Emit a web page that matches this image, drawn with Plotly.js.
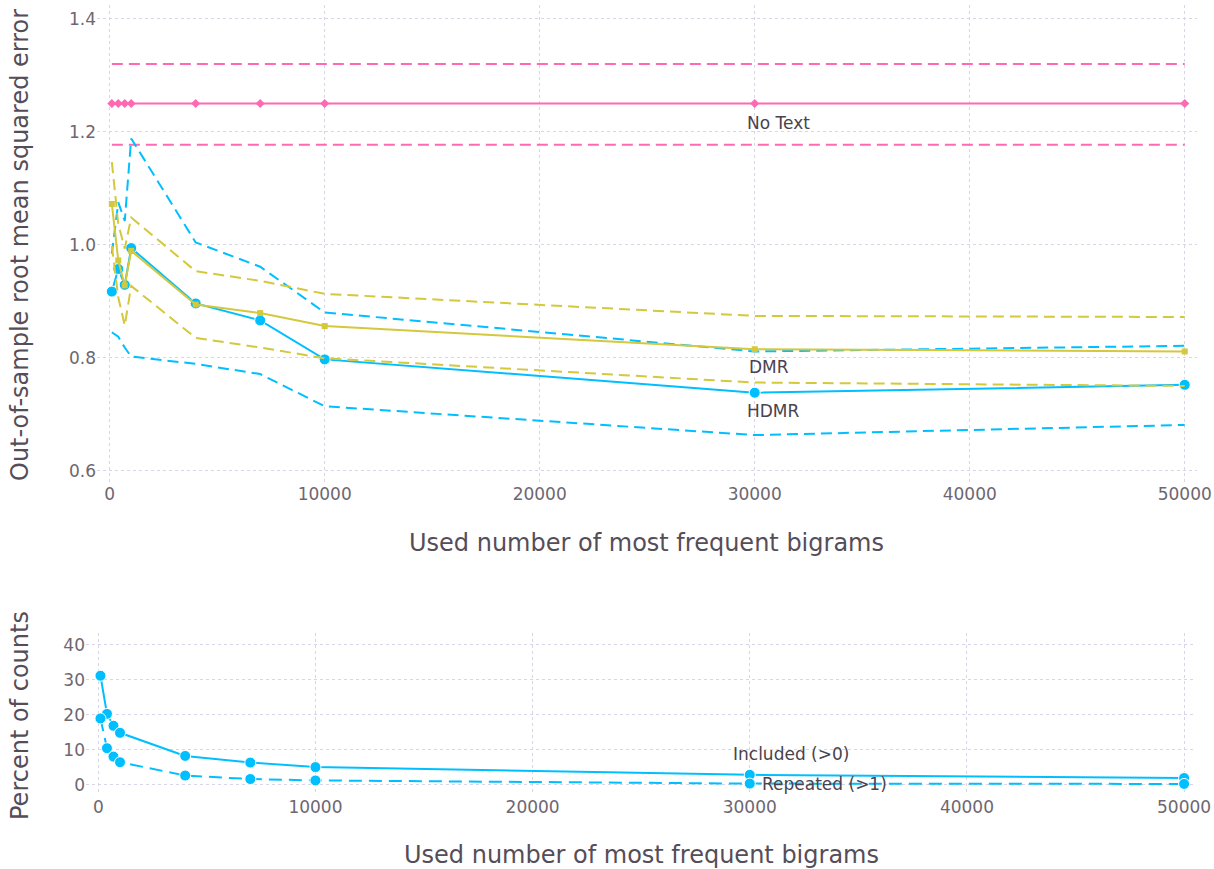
<!DOCTYPE html>
<html>
<head>
<meta charset="utf-8">
<script src="https://cdn.plot.ly/plotly-3.0.1.min.js"></script>
<style>
  html, body { margin: 0; padding: 0; background: #ffffff; }
  #chart { width: 1214px; height: 869px; }
</style>
</head>
<body>
<div id="chart"></div>
<script>
// Number of most frequent bigrams used as features
const bigrams = [100, 400, 700, 1000, 4000, 7000, 10000, 30000, 50000];

// Out-of-sample RMSE: baseline without text
const noText      = [1.25, 1.25, 1.25, 1.25, 1.25, 1.25, 1.25, 1.25, 1.25];
const noTextUpper = [1.32, 1.32, 1.32, 1.32, 1.32, 1.32, 1.32, 1.32, 1.32];
const noTextLower = [1.177, 1.177, 1.177, 1.177, 1.177, 1.177, 1.177, 1.177, 1.177];

// Out-of-sample RMSE: HDMR with interval bounds
const hdmr      = [0.917, 0.957, 0.929, 0.994, 0.896, 0.866, 0.797, 0.738, 0.752];
const hdmrUpper = [0.984, 1.075, 1.042, 1.188, 1.004, 0.961, 0.880, 0.811, 0.821];
const hdmrLower = [0.845, 0.837, 0.818, 0.802, 0.789, 0.771, 0.714, 0.663, 0.681];

// Out-of-sample RMSE: DMR with interval bounds
const dmr      = [1.072, 0.972, 0.928, 0.989, 0.894, 0.879, 0.856, 0.815, 0.811];
const dmrUpper = [1.146, 1.037, 0.993, 1.048, 0.953, 0.936, 0.913, 0.874, 0.872];
const dmrLower = [0.998, 0.907, 0.857, 0.927, 0.835, 0.818, 0.799, 0.756, 0.750];

// Percent of counts covered by the selected bigrams
const included = [31.2, 20.3, 16.9, 14.9, 8.3, 6.4, 5.1, 2.9, 2.0];
const repeated = [19.0, 10.5, 8.1, 6.5, 2.7, 1.7, 1.3, 0.4, 0.3];

// Tick labels
const xTicks = [0, 10000, 20000, 30000, 40000, 50000];
const rmseTicks = [0.6, 0.8, 1.0, 1.2, 1.4];
const pctTicks = [0, 10, 20, 30, 40];

const PINK = '#ff69b4';
const BLUE = '#00bfff';
const YELLOW = '#d4c83c';
const TICK_COLOR = '#6e6670';
const TITLE_COLOR = '#554d58';
const GRID = '#d6d6e8';
const FONT = 'DejaVu Sans, sans-serif';
const DASH = '11px,6px';

function line(x, y, color, opts) {
  opts = opts || {};
  const trace = {
    type: 'scatter',
    x: x, y: y,
    xaxis: opts.xaxis || 'x', yaxis: opts.yaxis || 'y',
    mode: opts.marker ? 'lines+markers' : 'lines',
    line: { color: color, width: 2, dash: opts.dash || 'solid' },
    hoverinfo: 'skip'
  };
  if (opts.marker) trace.marker = opts.marker;
  return trace;
}

const circle = { symbol: 'circle', size: 11, color: BLUE, line: { color: '#ffffff', width: 1 } };
const square = { symbol: 'square', size: 6, color: YELLOW };
const diamond = { symbol: 'diamond', size: 7, color: PINK };

const traces = [
  line(bigrams, noTextUpper, PINK, { dash: DASH }),
  line(bigrams, noTextLower, PINK, { dash: DASH }),
  line(bigrams, noText, PINK, { marker: diamond }),
  line(bigrams, hdmrUpper, BLUE, { dash: DASH }),
  line(bigrams, hdmrLower, BLUE, { dash: DASH }),
  line(bigrams, hdmr, BLUE, { marker: circle }),
  line(bigrams, dmrUpper, YELLOW, { dash: DASH }),
  line(bigrams, dmrLower, YELLOW, { dash: DASH }),
  line(bigrams, dmr, YELLOW, { marker: square }),
  line(bigrams, included, BLUE, { xaxis: 'x2', yaxis: 'y2', marker: circle }),
  line(bigrams, repeated, BLUE, { xaxis: 'x2', yaxis: 'y2', marker: circle, dash: '13px,7px' })
];

const W = 1214, H = 869;
const axisBase = {
  showgrid: true, gridcolor: GRID, gridwidth: 1, griddash: 'dot',
  zeroline: false, showline: false, ticks: '',
  tickfont: { family: FONT, size: 17, color: TICK_COLOR },
  fixedrange: true
};

function titleNote(text, px, py, angle) {
  return {
    text: text, xref: 'paper', yref: 'paper',
    x: px / W, y: 1 - py / H, xanchor: 'center', yanchor: 'middle',
    textangle: angle || 0, showarrow: false,
    font: { family: FONT, size: 24, color: TITLE_COLOR }
  };
}

function seriesNote(text, x, y, xr, yr) {
  return {
    text: text, xref: xr, yref: yr, x: x, y: y,
    xanchor: 'left', yanchor: 'middle', showarrow: false,
    font: { family: FONT, size: 17, color: '#4a424e' }
  };
}

const layout = {
  width: W, height: H,
  margin: { l: 0, r: 0, t: 0, b: 0 },
  paper_bgcolor: '#ffffff', plot_bgcolor: '#ffffff',
  showlegend: false, hovermode: false,
  xaxis: Object.assign({}, axisBase, {
    domain: [97 / W, 1197 / W], range: [-590, 50570],
    tickvals: xTicks, tickformat: 'd', anchor: 'y'
  }),
  yaxis: Object.assign({}, axisBase, {
    domain: [1 - 482 / H, 1 - 5 / H], range: [0.58, 1.4242],
    tickvals: rmseTicks, tickformat: '.1f', anchor: 'x'
  }),
  xaxis2: Object.assign({}, axisBase, {
    domain: [86 / W, 1193 / W], range: [-566, 50410],
    tickvals: xTicks, tickformat: 'd', anchor: 'y2'
  }),
  yaxis2: Object.assign({}, axisBase, {
    domain: [1 - 795 / H, 1 - 633 / H], range: [-2.86, 43.4],
    tickvals: pctTicks, tickformat: 'd', anchor: 'x2'
  }),
  annotations: [
    titleNote('Out-of-sample root mean squared error', 20, 245, -90),
    titleNote('Used number of most frequent bigrams', 646, 543),
    titleNote('Percent of counts', 20, 716, -90),
    titleNote('Used number of most frequent bigrams', 641, 855),
    seriesNote('No Text', 29560, 1.2154, 'x', 'y'),
    seriesNote('DMR', 29640, 0.7835, 'x', 'y'),
    seriesNote('HDMR', 29560, 0.7057, 'x', 'y'),
    seriesNote('Included (>0)', 29130, 8.86, 'x2', 'y2'),
    seriesNote('Repeated (>1)', 30460, 0.29, 'x2', 'y2')
  ]
};

Plotly.newPlot('chart', traces, layout, { staticPlot: true, displayModeBar: false });
</script>
</body>
</html>
